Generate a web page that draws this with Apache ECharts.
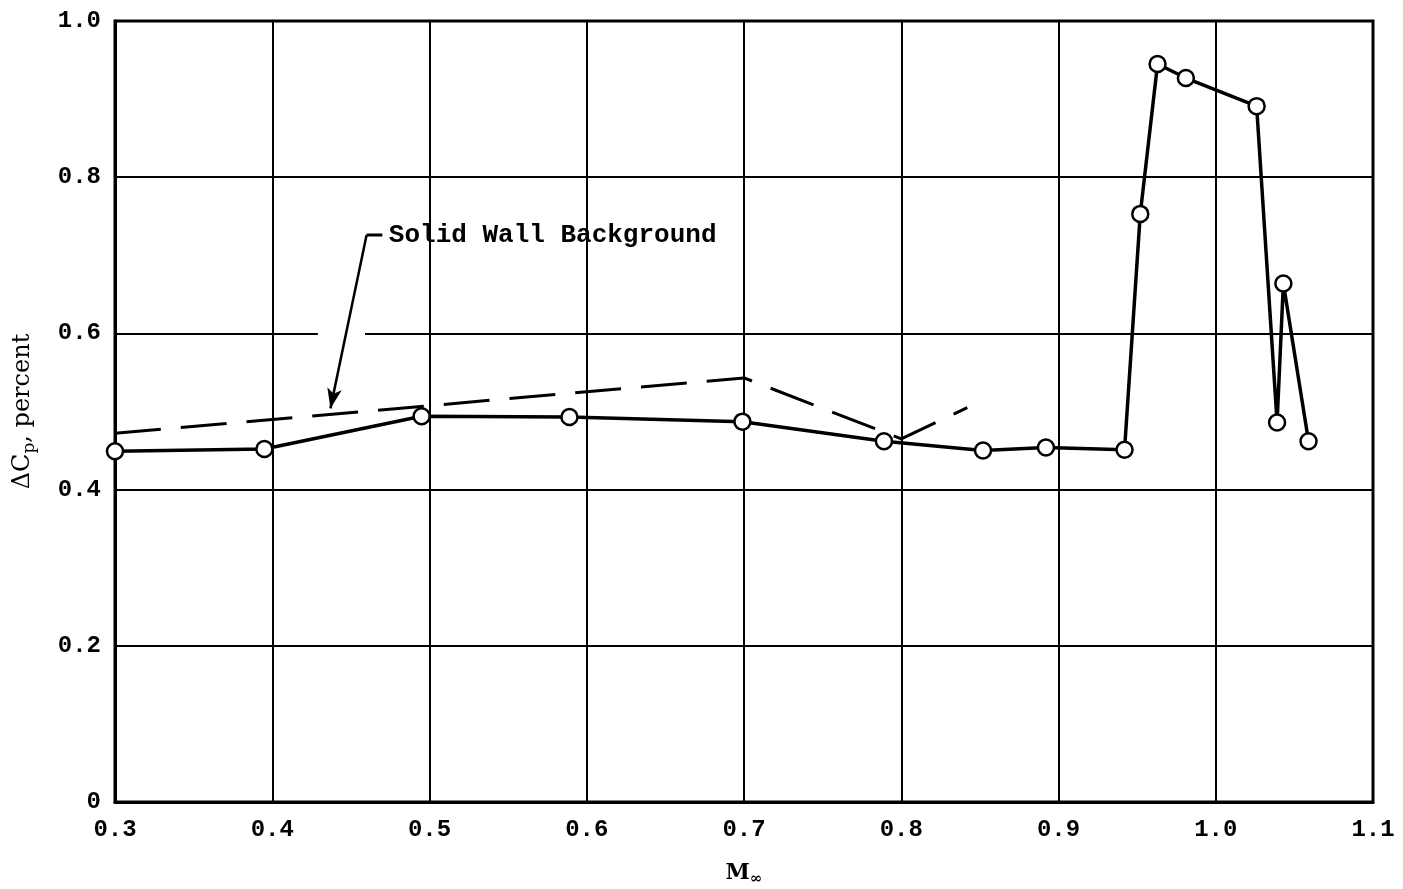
<!DOCTYPE html>
<html>
<head>
<meta charset="utf-8">
<script src="https://cdn.jsdelivr.net/npm/echarts@6/dist/echarts.min.js"></script>
<style>
html,body{margin:0;padding:0;background:#fff;}
#chart{width:1403px;height:889px;}
</style>
</head>
<body>
<div id="chart"></div>
<script>
// ---- data ----
const machMeasured = [0.300, 0.395, 0.495, 0.589, 0.699, 0.789, 0.852, 0.892, 0.942, 0.952, 0.963, 0.981, 1.026, 1.039, 1.043, 1.059];
const dcpMeasured  = [0.449, 0.452, 0.494, 0.493, 0.487, 0.462, 0.450, 0.454, 0.451, 0.753, 0.945, 0.927, 0.891, 0.486, 0.664, 0.462];
const machSolidWall = [0.300, 0.700, 0.800, 0.842];
const dcpSolidWall  = [0.472, 0.543, 0.465, 0.505];
const xTickLabels = ['0.3', '0.4', '0.5', '0.6', '0.7', '0.8', '0.9', '1.0', '1.1'];
const yTickLabels = ['0', '0.2', '0.4', '0.6', '0.8', '1.0'];
const annotationText = 'Solid Wall Background';
// annotation geometry (data coordinates)
const leaderStart = [0.470, 0.726];
const leaderCorner = [0.460, 0.726];
const leaderTip = [0.437, 0.504];
const gridGap = [[0.429, 0.6], [0.459, 0.6]];

const chart = echarts.init(document.getElementById('chart'), null, {renderer: 'canvas'});
const tickFont = 'Liberation Mono';
const option = {
  animation: false,
  backgroundColor: '#fff',
  grid: {left: 115, right: 30, top: 21, bottom: 87, containLabel: false, outerBoundsMode: 'none',
         show: true, borderColor: '#000', borderWidth: 3, backgroundColor: 'transparent'},
  xAxis: {
    type: 'value', min: 0.3, max: 1.1, interval: 0.1,
    axisLine: {show: true, lineStyle: {color: '#000', width: 3}},
    axisTick: {show: false},
    splitLine: {show: true, lineStyle: {color: '#000', width: 2}},
    axisLabel: {
      margin: 16, color: '#000', fontFamily: tickFont, fontWeight: 'bold', fontSize: 24,
      formatter: v => xTickLabels[Math.round((v - 0.3) * 10)]
    },
    name: 'M{sub|∞}', nameLocation: 'middle', nameGap: 58,
    nameTextStyle: {
      color: '#000', fontFamily: 'DejaVu Serif', fontWeight: 'bold', fontSize: 22,
      rich: {sub: {fontFamily: 'DejaVu Serif', fontWeight: 'bold', fontSize: 15, color: '#000', padding: [12, 0, 0, 0]}}
    }
  },
  yAxis: {
    type: 'value', min: 0, max: 1.0, interval: 0.2,
    axisLine: {show: true, lineStyle: {color: '#000', width: 3}},
    axisTick: {show: false},
    splitLine: {show: true, lineStyle: {color: '#000', width: 2}},
    axisLabel: {
      margin: 14, color: '#000', fontFamily: tickFont, fontWeight: 'bold', fontSize: 24,
      formatter: v => yTickLabels[Math.round(v * 5)]
    },
    name: 'ΔC{sub|p}, percent', nameLocation: 'middle', nameGap: 77, nameRotate: 90,
    nameTextStyle: {
      color: '#000', fontFamily: 'DejaVu Serif', fontSize: 24,
      rich: {sub: {fontFamily: 'DejaVu Serif', fontSize: 17, color: '#000', padding: [14, 0, 0, 0]}}
    }
  },
  series: [
    {
      name: 'gridgap', type: 'line', data: gridGap, symbol: 'none', silent: true, z: 1,
      lineStyle: {color: '#fff', width: 5}
    },
    {
      name: 'Solid Wall Background', type: 'line',
      data: machSolidWall.map((m, i) => [m, dcpSolidWall[i]]),
      symbol: 'none', z: 3,
      lineStyle: {color: '#000', width: 3, type: [46, 20]}
    },
    {
      name: 'leader', type: 'line', data: [leaderStart, leaderCorner], symbol: 'none', z: 4,
      lineStyle: {color: '#000', width: 3},
      label: {show: false},
      markLine: {
        silent: true, symbol: ['none', 'arrow'], symbolSize: [11, 20],
        lineStyle: {color: '#000', width: 2.5, type: 'solid'},
        label: {show: false},
        data: [[{coord: leaderCorner}, {coord: leaderTip}]]
      },
      markPoint: {
        symbol: 'rect', symbolSize: 1, itemStyle: {color: 'transparent'},
        label: {
          show: true, position: 'right', distance: 6, formatter: annotationText,
          color: '#000', fontFamily: tickFont, fontWeight: 'bold', fontSize: 26
        },
        data: [{coord: leaderStart}]
      }
    },
    {
      name: 'Measured', type: 'line',
      data: machMeasured.map((m, i) => [m, dcpMeasured[i]]),
      symbol: 'circle', symbolSize: 16, z: 5,
      lineStyle: {color: '#000', width: 3.5},
      itemStyle: {color: '#fff', borderColor: '#000', borderWidth: 2.5}
    }
  ]
};
chart.setOption(option);
</script>
</body>
</html>
